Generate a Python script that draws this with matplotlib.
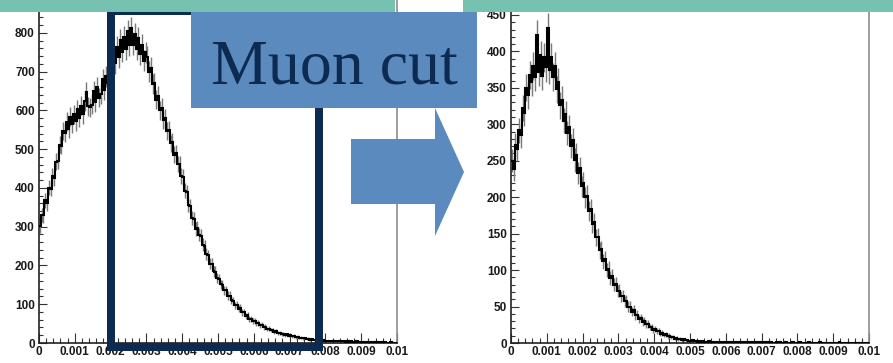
import numpy as np
import matplotlib
matplotlib.use("Agg")
import matplotlib.pyplot as plt
from matplotlib.patches import Rectangle, Polygon
from matplotlib.ticker import FixedLocator, FixedFormatter, MultipleLocator

# ---- histogram contents (200 bins over 0 .. 0.01) ----
n_bins = 200
x_range = (0.0, 0.01)

counts_all = [
    302, 331, 329, 368, 360, 401, 398, 431, 425, 468, 470, 512, 509, 547, 541, 571, 553, 584, 566, 590,
    572, 603, 581, 612, 590, 624, 648, 611, 608, 615, 651, 622, 660, 633, 642, 681, 652, 688, 670, 702,
    700, 748, 722, 765, 738, 781, 752, 790, 758, 805, 768, 812, 770, 798, 758, 788, 745, 770, 728, 750,
    738, 700, 710, 668, 672, 628, 638, 601, 607, 575, 580, 546, 550, 515, 518, 486, 490, 462, 462, 432,
    428, 393, 389, 357, 353, 323, 320, 294, 297, 279, 277, 254, 251, 229, 226, 205, 204, 185, 184, 168,
    166, 151, 150, 136, 136, 122, 122, 110, 109, 97, 99, 89, 90, 79, 80, 70, 71, 63, 63, 56,
    57, 51, 52, 46, 47, 41, 42, 36, 37, 33, 33, 29, 30, 26, 27, 24, 24, 21, 22, 19,
    20, 17, 18, 15, 16, 13, 14, 12, 13, 10, 11, 9, 10, 8, 9, 7, 8, 6, 7, 6,
    6, 5, 6, 5, 5, 4, 5, 4, 4, 5, 4, 3, 4, 3, 4, 3, 3, 4, 3, 3,
    2, 3, 2, 3, 2, 2, 3, 2, 2, 1, 2, 2, 1, 2, 1, 1, 2, 1, 1, 1,
]

counts_cut = [
    250, 238, 272, 266, 292, 285, 322, 316, 350, 340, 368, 358, 380, 365, 422, 372, 395, 366, 392, 378,
    432, 375, 392, 365, 380, 348, 358, 326, 334, 305, 314, 288, 296, 270, 278, 251, 258, 233, 240, 215,
    220, 200, 202, 181, 184, 163, 166, 145, 146, 127, 129, 112, 115, 100, 102, 89, 92, 80, 81, 71,
    72, 64, 65, 57, 58, 50, 50, 43, 45, 38, 39, 33, 34, 29, 30, 26, 26, 22, 22, 18,
    19, 16, 16, 13, 14, 11, 12, 9, 10, 8, 8, 6, 7, 5, 6, 4, 5, 4, 4, 3,
    3, 4, 3, 3, 2, 3, 2, 3, 2, 2, 3, 2, 2, 2, 1, 2, 2, 1, 2, 1,
    2, 1, 1, 2, 1, 1, 1, 2, 1, 1, 1, 1, 0, 1, 1, 1, 0, 1, 1, 0,
    1, 0, 1, 1, 0, 1, 0, 0, 1, 0, 1, 0, 0, 1, 0, 0, 0, 1, 0, 0,
    0, 1, 0, 0, 0, 0, 1, 0, 0, 0, 0, 0, 1, 0, 0, 0, 0, 0, 0, 0,
    0, 0, 0, 1, 0, 0, 0, 0, 0, 0, 0, 0, 0, 0, 0, 0, 0, 0, 0, 0,
]

x_ticks = [0, 0.001, 0.002, 0.003, 0.004, 0.005, 0.006, 0.007, 0.008, 0.009, 0.01]
x_tick_labels = ["0", "0.001", "0.002", "0.003", "0.004", "0.005",
                 "0.006", "0.007", "0.008", "0.009", "0.01"]
y_ticks_all = [0, 100, 200, 300, 400, 500, 600, 700, 800]
y_ticks_cut = [0, 50, 100, 150, 200, 250, 300, 350, 400, 450]

slide_title_tail = "gg"
cut_label = "Muon cut"

# ---- colours ----
TEAL = "#77c1b1"
BLUE = "#5a8abe"
NAVY = "#0d2b51"

W, H = 893, 363
fig = plt.figure(figsize=(W / 100, H / 100), dpi=100)


def frac_box(x0, x1, y_top, y_bot):
    return [x0 / W, 1 - y_bot / H, (x1 - x0) / W, (y_bot - y_top) / H]


def draw_hist(ax, counts, y_top, y_ticks, y_minor):
    counts = np.asarray(counts, dtype=float)
    edges = np.linspace(x_range[0], x_range[1], n_bins + 1)
    centers = 0.5 * (edges[:-1] + edges[1:])
    err = np.sqrt(counts)
    ax.vlines(centers, counts - err, counts + err, color="#7a7a7a", lw=1.0, zorder=2)
    ax.stairs(counts, edges, color="black", lw=1.5, baseline=None, zorder=3)
    ax.set_xlim(*x_range)
    ax.set_ylim(0, y_top)
    ax.xaxis.set_major_locator(FixedLocator(x_ticks))
    ax.xaxis.set_major_formatter(FixedFormatter(x_tick_labels))
    ax.xaxis.set_minor_locator(MultipleLocator(0.0002))
    ax.yaxis.set_major_locator(FixedLocator(y_ticks))
    ax.yaxis.set_major_formatter(FixedFormatter([str(v) for v in y_ticks]))
    ax.yaxis.set_minor_locator(MultipleLocator(y_minor))
    ax.tick_params(which="both", direction="in", color="#333333", width=0.8)
    ax.tick_params(axis="x", which="major", length=7, pad=2)
    ax.tick_params(axis="x", which="minor", length=3.5)
    ax.tick_params(axis="y", which="major", length=5.5, pad=3)
    ax.tick_params(axis="y", which="minor", length=3)
    for lab in ax.get_xticklabels() + ax.get_yticklabels():
        lab.set_fontfamily("Liberation Sans")
        lab.set_fontweight("bold")
        lab.set_fontsize(8.5)
        lab.set_color("#1a1a1a")
    ax.spines["top"].set_visible(False)
    ax.spines["left"].set_color("#222222")
    ax.spines["bottom"].set_color("#222222")
    ax.spines["right"].set_color("#8c8c8c")
    for s in ("left", "bottom", "right"):
        ax.spines[s].set_linewidth(1.2)


ax_all = fig.add_axes(frac_box(39, 397, 0, 343))
draw_hist(ax_all, counts_all, 885, y_ticks_all, 20)

ax_cut = fig.add_axes(frac_box(511, 869, 0, 343))
draw_hist(ax_cut, counts_cut, 470.5, y_ticks_cut, 10)

# ---- slide decorations drawn in pixel coordinates ----
ov = fig.add_axes([0, 0, 1, 1], zorder=10)
ov.set_xlim(0, W)
ov.set_ylim(H, 0)
ov.axis("off")
ov.patch.set_alpha(0)

# selection window around the peak region
ov.add_patch(Rectangle((111, 11), 319 - 111, 347 - 11, fill=False,
                       edgecolor=NAVY, lw=8 * 0.72, joinstyle="miter"))
# label box
ov.add_patch(Rectangle((191, 12), 477 - 191, 108 - 12, facecolor=BLUE, edgecolor="none"))
ov.text(211, 83, cut_label, fontfamily="Liberation Serif", fontsize=46,
        color=NAVY, ha="left", va="baseline")
# arrow to the filtered distribution
ov.add_patch(Polygon([(351, 139), (435, 139), (435, 108), (464, 172),
                      (435, 236), (435, 204), (351, 204)],
                     closed=True, facecolor=BLUE, edgecolor="none"))
# title bars
ov.add_patch(Rectangle((0, 0), 395, 12, facecolor=TEAL, edgecolor="none"))
ov.add_patch(Rectangle((463, 0), W - 463, 12, facecolor=TEAL, edgecolor="none"))
ov.text(254, -14, slide_title_tail, fontfamily="Liberation Serif", fontsize=46,
        color=NAVY, ha="left", va="baseline")
ov.text(751, -14, slide_title_tail, fontfamily="Liberation Serif", fontsize=46,
        color=NAVY, ha="left", va="baseline")

fig.savefig("out.png", dpi=100)
